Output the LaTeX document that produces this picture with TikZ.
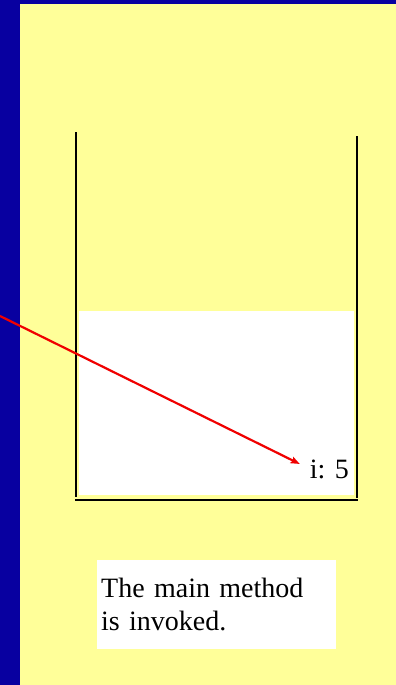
\documentclass[tikz,border=0pt]{standalone}
\usepackage{fontspec}
\setmainfont{Liberation Serif}
\usetikzlibrary{arrows.meta}
\definecolor{slideblue}{RGB}{8,0,160}
\definecolor{slideyellow}{RGB}{255,255,153}
\definecolor{arrowred}{RGB}{240,0,0}
\tikzset{
  wall/.style={draw=black, line width=2.4pt},
  pointer/.style={draw=arrowred, line width=2.2pt, -{Stealth[length=9pt,width=7pt,inset=1.5pt]}},
  caption/.style={fill=white, font=\fontsize{28}{33}\selectfont, align=left, anchor=north west,
    minimum width=239pt, minimum height=89pt, inner xsep=4pt, inner ysep=6pt, text width=231pt},
  varlabel/.style={font=\fontsize{28}{33}\selectfont, inner xsep=10pt, inner ysep=0pt}
}
\begin{document}
\begin{tikzpicture}[x=1pt,y=-1pt]
\useasboundingbox (0,0) rectangle (396,685);
\fill[slideblue] (0,0) rectangle (396,685);
\fill[slideyellow] (20,4) rectangle (396,685);
% stack frame area
\fill[white] (79,311) rectangle (354,495);
% stack walls
\draw[wall] (76.2,132) -- (76.2,497);
\draw[wall] (356.7,136) -- (356.7,498);
\draw[wall] (75,500) -- (357.9,500);
% variable
\node[varlabel, anchor=base east] (i5) at (359,478) {i: 5};
% pointer
\coordinate (src) at (0,316);
\draw[pointer] (src) -- ([yshift=5pt]i5.west);
% caption
\node[caption] (cap) at (97,560) {The main method\\is invoked.};
\end{tikzpicture}
\end{document}
